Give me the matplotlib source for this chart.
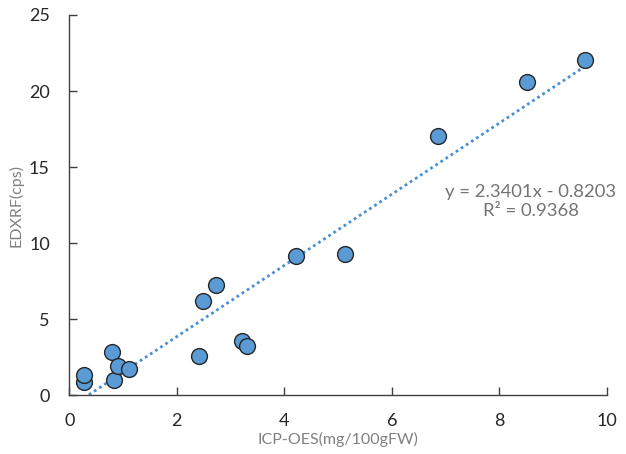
import matplotlib
matplotlib.use("Agg")
import matplotlib.pyplot as plt
import numpy as np

icp = [0.27, 0.28, 0.80, 0.83, 0.91, 1.11, 2.42, 2.49, 2.72, 3.21, 3.30, 4.21, 5.12, 6.85, 8.51, 9.59]
edxrf = [0.86, 1.32, 2.85, 1.01, 1.93, 1.71, 2.61, 6.20, 7.26, 3.57, 3.26, 9.16, 9.28, 17.06, 20.59, 22.01]
slope = 2.3401
intercept = -0.8203
r2 = 0.9368
xticks = [0, 2, 4, 6, 8, 10]
yticks = [0, 5, 10, 15, 20, 25]

plt.rcParams['font.family'] = ['Lato', 'DejaVu Sans']

fig = plt.figure(figsize=(6.26, 4.54), dpi=100)
ax = fig.add_axes([0.1107, 0.1293, 0.8589, 0.8377])

xs = np.array([min(icp), max(icp)])
ax.plot(xs, slope * xs + intercept, linestyle=(0, (1, 1.2)), color='#4a8fd6', linewidth=2.0, zorder=2)
ax.scatter(icp, edxrf, s=130, color='#5B9BD5', edgecolor='#262626', linewidth=1.0, zorder=3)

ax.set_xlim(0, 10)
ax.set_ylim(0, 25)
ax.set_xticks(xticks)
ax.set_yticks(yticks)
for s in ['top', 'right']:
    ax.spines[s].set_visible(False)
for s in ['left', 'bottom']:
    ax.spines[s].set_color('#404040')
    ax.spines[s].set_linewidth(1.0)
ax.tick_params(direction='in', length=6, width=1.0, color='#404040', labelsize=13, labelcolor='#262626')
ax.tick_params(axis='y', pad=14)
ax.tick_params(axis='x', pad=13)

ax.set_xlabel('ICP-OES(mg/100gFW)', fontsize=11.5, color='#808080', labelpad=2)
ax.set_ylabel('EDXRF(cps)', fontsize=11.5, color='#808080', labelpad=4)

ax.text(8.58, 12.75, f'y = {slope:.4f}x - {abs(intercept):.4f}\nR² = {r2:.4f}', ha='center', va='center',
        fontsize=13.3, color='#737373', linespacing=1.2)

fig.savefig('out.png', dpi=100)
